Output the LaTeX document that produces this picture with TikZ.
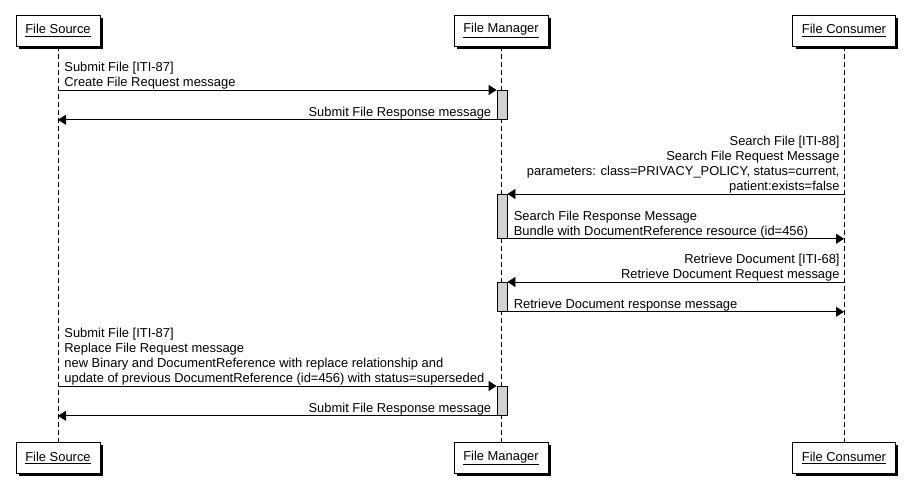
\documentclass[tikz,border=0pt]{standalone}
\usepackage{fontspec}
\setmainfont{Liberation Sans}
\usetikzlibrary{arrows.meta,shadows,positioning}

\begin{document}
\begin{tikzpicture}[x=0.75pt, y=-0.75pt, line width=0.6pt,
  font=\fontsize{9.7}{11.25}\selectfont,
  actor/.style={draw, fill=white, minimum height=23.25pt, inner xsep=7pt,
    drop shadow={shadow xshift=2.25pt, shadow yshift=-2.25pt, fill=black, opacity=1}},
  life/.style={dash pattern=on 3.75pt off 2.25pt},
  act/.style={draw, fill=gray!35, minimum width=7.5pt, inner sep=0pt, anchor=north},
  msg/.style={-{Triangle[length=6pt, width=7.5pt]}},
  lbl/.style={inner sep=0pt, yshift=0.2pt}]
\useasboundingbox (0,0) rectangle (911,498);

% participants
\node[actor] (srcT) at (58,30.5)  {\underline{File Source}};
\node[actor] (mgrT) at (501,30.5) {\underline{File Manager}};
\node[actor] (conT) at (844,30.5) {\underline{File Consumer}};
\node[actor] (srcB) at (58,458)  {\underline{File Source}};
\node[actor] (mgrB) at (501,458) {\underline{File Manager}};
\node[actor] (conB) at (844,458) {\underline{File Consumer}};

\draw[life] (srcT) -- (srcB);
\draw[life] (mgrT) -- (mgrB);
\draw[life] (conT) -- (conB);

% activations
\node[act, minimum height=21.75pt] (a1) at (502,90)  {};
\node[act, minimum height=33pt]    (a2) at (502,194) {};
\node[act, minimum height=21.75pt] (a3) at (502,282) {};
\node[act, minimum height=21.75pt] (a4) at (502,386) {};

% messages
\draw[msg] (srcT |- a1.north) -- (a1.north west) node[lbl, at start, anchor=south west, align=left, xshift=4.5pt] (m1)
  {Submit File [ITI-87]\\Create File Request message};
\draw[msg] (a1.south west) -- (srcT |- a1.south) node[lbl, at start, anchor=south east, xshift=-3.75pt] (m2)
  {Submit File Response message};

\draw[msg] (conT |- a2.north) -- (a2.north east) node[lbl, at start, anchor=south east, align=right, xshift=-3pt] (m3)
  {Search File [ITI-88]\\Search File Request Message\\parameters: class=PRIVACY\_POLICY, status=current,\\patient:exists=false};
\draw[msg] (a2.south east) -- (conT |- a2.south) node[lbl, at start, anchor=south west, align=left, xshift=4.5pt] (m4)
  {Search File Response Message\\Bundle with DocumentReference resource (id=456)};

\draw[msg] (conT |- a3.north) -- (a3.north east) node[lbl, at start, anchor=south east, align=right, xshift=-3pt] (m5)
  {Retrieve Document [ITI-68]\\Retrieve Document Request message};
\draw[msg] (a3.south east) -- (conT |- a3.south) node[lbl, at start, anchor=south west, xshift=4.5pt] (m6)
  {Retrieve Document response message};

\draw[msg] (srcT |- a4.north) -- (a4.north west) node[lbl, at start, anchor=south west, align=left, xshift=4.5pt] (m7)
  {Submit File [ITI-87]\\Replace File Request message\\new Binary and DocumentReference with replace relationship and\\update of previous DocumentReference (id=456) with status=superseded};
\draw[msg] (a4.south west) -- (srcT |- a4.south) node[lbl, at start, anchor=south east, xshift=-3.75pt] (m8)
  {Submit File Response message};
\end{tikzpicture}
\end{document}
